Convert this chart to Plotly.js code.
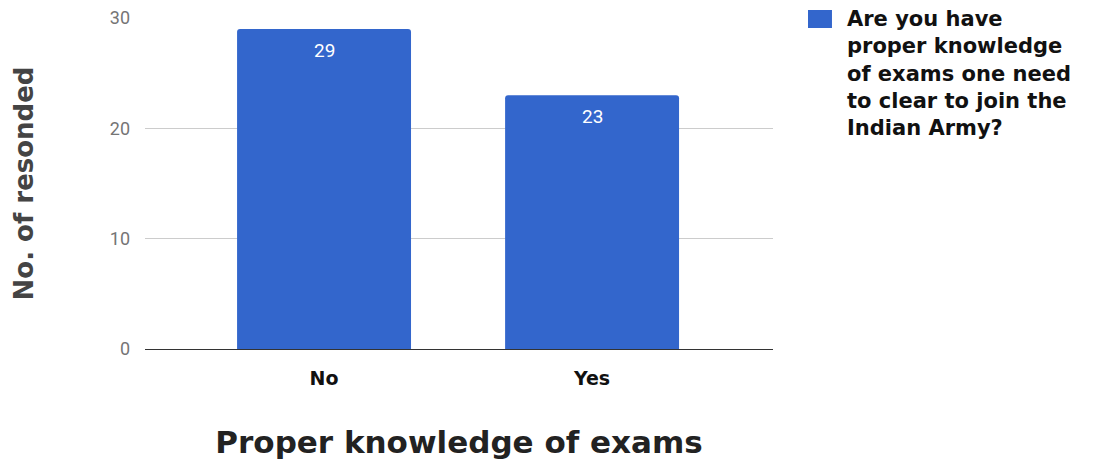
<!DOCTYPE html>
<html>
<head>
<meta charset="utf-8">
<script src="https://cdn.plot.ly/plotly-3.0.1.min.js"></script>
<style>html,body{margin:0;padding:0;background:#fff;}#chart{width:1103px;height:460px;}</style>
</head>
<body>
<div id="chart"></div>
<script>
const categories = ["No", "Yes"];
const values = [29, 23];
const seriesName = "Are you have<br>proper knowledge<br>of exams one need<br>to clear to join the<br>Indian Army?";
const yTicks = [0, 10, 20, 30];
const xTitle = "Proper knowledge of exams";
const yTitle = "No. of resonded";
const barColor = "#3366cc";

const trace = {
  type: "bar",
  x: categories,
  y: values,
  name: seriesName,
  marker: {color: barColor},
  hoverinfo: "none",
  showlegend: false
};

const annotations = categories.map((c, i) => ({
  x: c, y: values[i], xref: "x", yref: "y",
  text: String(values[i]), showarrow: false,
  yshift: -21,
  font: {family: "Roboto", size: 19, color: "#ffffff"}
}));

// legend drawn manually (key square + text)
annotations.push({
  xref: "paper", yref: "paper", x: 1.114, y: 1.040,
  xanchor: "left", yanchor: "top", align: "left",
  text: seriesName, showarrow: false,
  font: {family: "DejaVu Sans", size: 21, color: "#111", weight: "bold"}
});

const layout = {
  width: 1103, height: 460,
  margin: {l: 145, r: 330, t: 18, b: 111},
  paper_bgcolor: "#fff", plot_bgcolor: "#fff",
  bargap: 0.351,
  barcornerradius: 3,
  showlegend: false,
  xaxis: {
    automargin: false,
    range: [-0.668, 1.675],
    showgrid: false, zeroline: false,
    showline: true, linecolor: "#333", linewidth: 1,
    ticks: "", ticklabelstandoff: 12,
    tickfont: {family: "DejaVu Sans", size: 19, color: "#111", weight: "bold"},
    title: {text: xTitle, standoff: 44, font: {family: "DejaVu Sans", size: 31, color: "#222", weight: "bold"}}
  },
  yaxis: {
    automargin: false,
    range: [0, 30], tickvals: yTicks,
    showgrid: true, gridcolor: "#cccccc", gridwidth: 1,
    zeroline: false, showline: false,
    ticks: "", ticklabelstandoff: 14,
    tickfont: {family: "Roboto", size: 18, color: "#757575"},
    title: {text: yTitle, standoff: 68, font: {family: "DejaVu Sans", size: 26, color: "#444", weight: "bold"}}
  },
  shapes: [{
    type: "rect", xref: "paper", yref: "paper",
    x0: 1.0557, x1: 1.0939, y0: 0.9698, y1: 1.0242,
    fillcolor: barColor, line: {width: 0}
  }],
  annotations: annotations
};

Plotly.newPlot("chart", [trace], layout, {displayModeBar: false, staticPlot: true});
</script>
</body>
</html>
